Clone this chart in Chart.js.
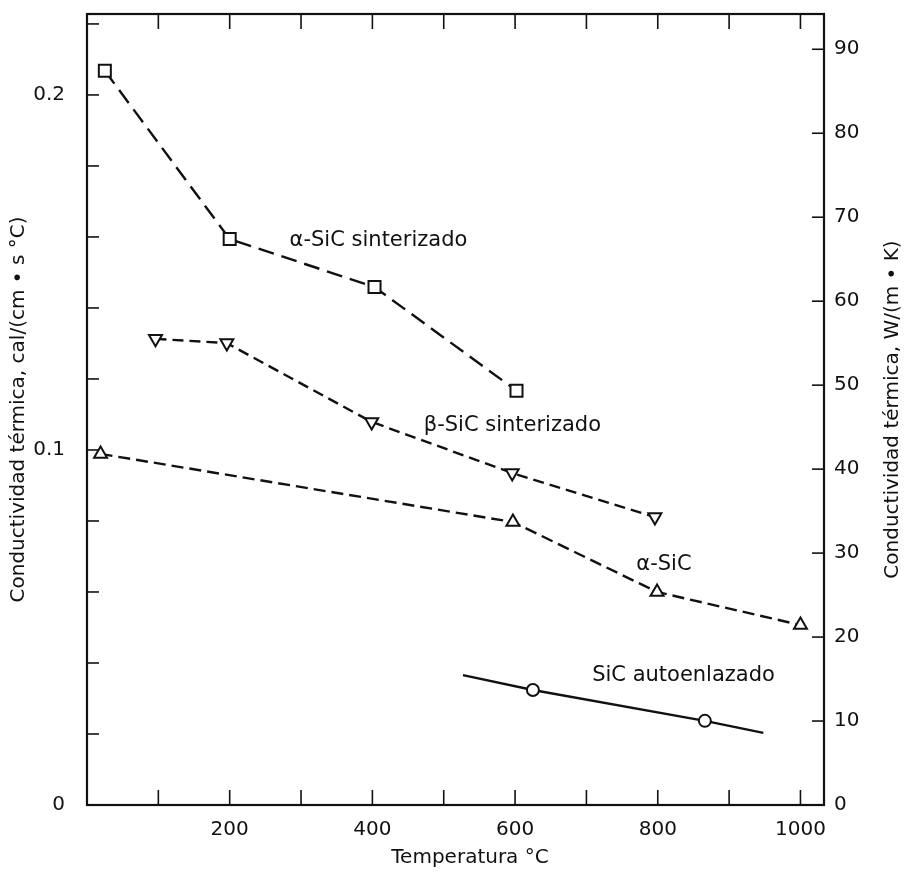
<!DOCTYPE html>
<html><head><meta charset="utf-8">
<script src="https://cdn.jsdelivr.net/npm/chart.js@4.4.1/dist/chart.umd.min.js"></script>
<style>html,body{margin:0;padding:0;background:#fff;} canvas{display:block;}</style>
</head><body>
<canvas id="c" width="907" height="873"></canvas>
<script>
// ---- data ----
const tempAlphaSint = [25, 200, 403, 602];
const kAlphaSint    = [0.2068, 0.1594, 0.1459, 0.1167];
const tempBetaSint  = [96, 196, 399, 596, 796];
const kBetaSint     = [0.1313, 0.1301, 0.1079, 0.0935, 0.0811];
const tempAlpha     = [19, 597, 799, 1000];
const kAlpha        = [0.0989, 0.0797, 0.0600, 0.0507];
const tempAuto      = [527, 625, 866, 948];
const kAuto         = [0.0366, 0.0324, 0.0237, 0.0203];
const autoMarkers   = [false, true, true, false];

const xTickLabels     = [200, 400, 600, 800, 1000];
const leftTickLabels  = [0, 0.1, 0.2];
const rightTickLabels = [0, 10, 20, 30, 40, 50, 60, 70, 80, 90];

const seriesNames = ['α-SiC sinterizado', 'β-SiC sinterizado', 'α-SiC', 'SiC autoenlazado'];
const labelAnchors = [ // [temperature, conductivity] where each label starts
  [284, 0.1589], [472, 0.1070], [770, 0.0676], [708, 0.0366]
];

const FONT = 'DejaVu Sans';
const INK = '#111';
const pts = (xs, ys) => xs.map((x, i) => ({x, y: ys[i]}));

const frame = {
  id: 'frame',
  afterDraw(chart) {
    const {ctx, chartArea: a, scales} = chart;
    const line = (x1, y1, x2, y2) => { ctx.beginPath(); ctx.moveTo(x1, y1); ctx.lineTo(x2, y2); ctx.stroke(); };
    ctx.save();
    ctx.strokeStyle = INK;
    ctx.lineWidth = 2.2;
    ctx.strokeRect(a.left, a.top, a.right - a.left, a.bottom - a.top);
    ctx.lineWidth = 1.6;
    scales.x.ticks.forEach(t => {
      if (t.value <= 0 || Math.abs(t.value % 100) > 1e-6) return;
      const px = scales.x.getPixelForValue(t.value);
      line(px, a.bottom, px, a.bottom - 15);
      line(px, a.top, px, a.top + 15);
    });
    scales.y.ticks.forEach(t => {
      if (t.value <= 0) return;
      const py = scales.y.getPixelForValue(t.value);
      line(a.left, py, a.left + 12, py);
    });
    scales.y1.ticks.forEach(t => {
      if (t.value <= 0) return;
      const py = scales.y1.getPixelForValue(t.value);
      line(a.right, py, a.right - 12, py);
    });
    // axis titles
    ctx.fillStyle = INK;
    ctx.font = `20px "${FONT}"`;
    ctx.textAlign = 'center';
    ctx.textBaseline = 'middle';
    const cy = (a.top + a.bottom) / 2;
    ctx.save(); ctx.translate(19, cy); ctx.rotate(-Math.PI / 2);
    ctx.fillText('Conductividad térmica, cal/(cm • s °C)', 0, 0); ctx.restore();
    ctx.save(); ctx.translate(893, cy); ctx.rotate(-Math.PI / 2);
    ctx.fillText('Conductividad térmica, W/(m • K)', 0, 0); ctx.restore();
    ctx.fillText('Temperatura °C', 470, 858);
    // series labels
    ctx.textAlign = 'left';
    ctx.font = `21px "${FONT}"`;
    seriesNames.forEach((n, i) => {
      const [tx, ty] = labelAnchors[i];
      ctx.fillText(n, scales.x.getPixelForValue(tx), scales.y.getPixelForValue(ty));
    });
    ctx.restore();
  }
};

const tickFont = {family: FONT, size: 20};
const pick = (list, v) => { const m = list.find(l => Math.abs(l - v) < 1e-9); return m === undefined ? '' : String(m); };
const noPad = s => { s.paddingTop = 0; s.paddingBottom = 0; s.paddingLeft = 0; s.paddingRight = 0; };

new Chart(document.getElementById('c'), {
  type: 'line',
  data: {
    datasets: [
      {data: pts(tempAlphaSint, kAlphaSint), borderColor: INK, borderWidth: 2.4, borderDash: [16, 8],
       pointStyle: 'rect', pointRadius: 8.5, pointBorderWidth: 2, pointBorderColor: INK, pointBackgroundColor: '#fff'},
      {data: pts(tempBetaSint, kBetaSint), borderColor: INK, borderWidth: 2.4, borderDash: [11, 6],
       pointStyle: 'triangle', pointRotation: 180, pointRadius: 7.5, pointBorderWidth: 2, pointBorderColor: INK, pointBackgroundColor: '#fff'},
      {data: pts(tempAlpha, kAlpha), borderColor: INK, borderWidth: 2.4, borderDash: [12, 6],
       pointStyle: 'triangle', pointRadius: 7.5, pointBorderWidth: 2, pointBorderColor: INK, pointBackgroundColor: '#fff'},
      {data: pts(tempAuto, kAuto), borderColor: INK, borderWidth: 2.4,
       pointStyle: 'circle', pointRadius: autoMarkers.map(m => m ? 6 : 0), pointBorderWidth: 2, pointBorderColor: INK, pointBackgroundColor: '#fff'}
    ]
  },
  options: {
    responsive: false, animation: false, devicePixelRatio: 1,
    layout: {padding: {top: 14, left: 0, right: 0, bottom: 0}},
    plugins: {legend: {display: false}, tooltip: {enabled: false}},
    elements: {line: {tension: 0}},
    scales: {
      x: {type: 'linear', min: 0, max: 1033,
          grid: {display: false, drawTicks: false}, border: {display: false},
          ticks: {stepSize: 100, includeBounds: false, autoSkip: false, maxRotation: 0, padding: 13,
                  color: INK, font: tickFont, callback: v => pick(xTickLabels, v)},
          afterFit(s) { s.height = 68; noPad(s); }},
      y: {type: 'linear', position: 'left', min: 0, max: 0.2228,
          grid: {display: false, drawTicks: false}, border: {display: false},
          ticks: {stepSize: 0.02, includeBounds: false, autoSkip: false, padding: 22,
                  color: INK, font: tickFont, callback: v => pick(leftTickLabels, v)},
          afterFit(s) { s.width = 87; noPad(s); }},
      y1: {type: 'linear', position: 'right', min: 0, max: 94.2,
          grid: {display: false, drawTicks: false}, border: {display: false},
          ticks: {stepSize: 10, includeBounds: false, autoSkip: false, padding: 10,
                  color: INK, font: tickFont, callback: v => pick(rightTickLabels, v)},
          afterFit(s) { s.width = 83; noPad(s); }}
    }
  },
  plugins: [frame]
});
</script>
</body></html>
